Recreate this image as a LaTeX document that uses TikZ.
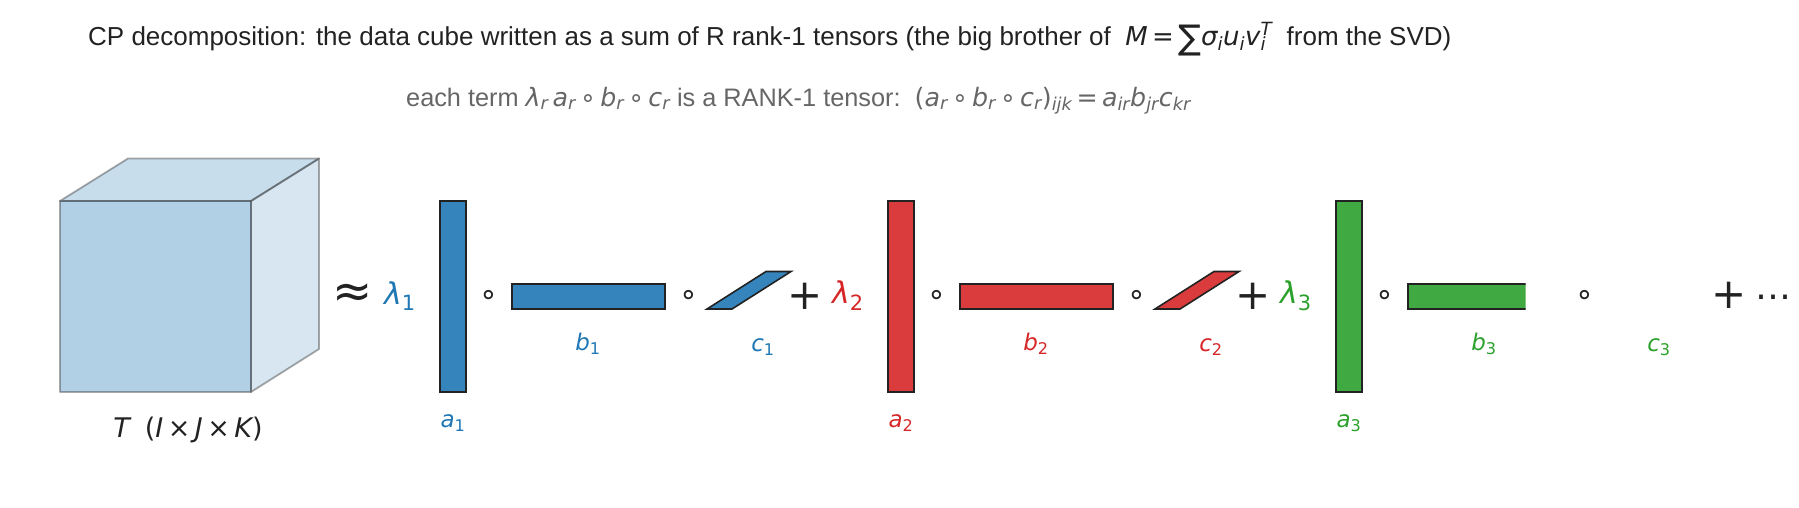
\documentclass[tikz,border=0pt]{standalone}
\usepackage{fontspec}
\setmainfont{Liberation Sans}
\newfontfamily\dvfont{DejaVu Sans}
\usepackage{xcolor}
\usepackage{tikz}
\usetikzlibrary{positioning}

\definecolor{tabblue}{HTML}{1F77B4}
\definecolor{tabred}{HTML}{D62728}
\definecolor{tabgreen}{HTML}{2CA02C}
\definecolor{edgeclr}{HTML}{222222}
\definecolor{inkclr}{HTML}{222222}
\definecolor{subclr}{HTML}{666666}

% math-like pieces set in DejaVu Sans
\newcommand{\mv}[1]{{\dvfont\itshape #1}}
\newcommand{\mup}[1]{{\dvfont #1}}
\newcommand{\sbs}[1]{\textsubscript{#1}}

\begin{document}
\begin{tikzpicture}[x=1pt, y=-1pt,
  ttl/.style={font=\fontsize{26}{30}\selectfont, text=inkclr, inner sep=0pt},
  subttl/.style={font=\fontsize{25.3}{29}\selectfont, text=subclr, inner sep=0pt},
  cubeface/.style={fill=tabblue, fill opacity=#1, draw=black!75, draw opacity=0.45,
                   line width=1.8pt, line join=round},
  vecbar/.style={fill=#1, fill opacity=0.9, draw=edgeclr, line width=1.6pt, line join=miter},
  oplbl/.style={font=\dvfont\fontsize{42}{42}\selectfont, text=inkclr, inner sep=0pt},
  approxlbl/.style={font=\dvfont\fontsize{48}{48}\selectfont, text=inkclr, inner sep=0pt},
  circlbl/.style={font=\dvfont\fontsize{30}{30}\selectfont, text=inkclr, inner sep=0pt},
  veclbl/.style={font=\fontsize{23}{23}\selectfont, text=#1, inner sep=0pt},
  lamlbl/.style={font=\fontsize{30}{30}\selectfont, text=#1, inner sep=0pt}
]
\useasboundingbox (0,0) rectangle (1799,507);

% titles
\node[ttl, anchor=base west] (title) at (88,45)
  {CP decomposition: the data cube written as a sum of R rank-1 tensors (the big brother of\ \ \mv{M}\mup{\,=\,}\raisebox{-0.18em}{\mup{\fontsize{34}{34}\selectfont ∑}}\mv{σ}\sbs{\mv{i}}\mv{u}\sbs{\mv{i}}\mv{v}\rlap{\sbs{\mv{i}}}\textsuperscript{\mv{T}}\ \ from the SVD)};
\node[subttl, anchor=base west] (subtitle) at (406,106)
  {each term \mv{λ}\sbs{\mv{r}}\,\mv{a}\sbs{\mv{r}}\mup{\,∘\,}\mv{b}\sbs{\mv{r}}\mup{\,∘\,}\mv{c}\sbs{\mv{r}} is a RANK-1 tensor:\ \ \mup{(}\mv{a}\sbs{\mv{r}}\mup{\,∘\,}\mv{b}\sbs{\mv{r}}\mup{\,∘\,}\mv{c}\sbs{\mv{r}}\mup{)}\sbs{\mv{ijk}}\mup{\,=\,}\mv{a}\sbs{\mv{ir}}\mv{b}\sbs{\mv{jr}}\mv{c}\sbs{\mv{kr}}};

% the data cube
\draw[cubeface=0.25] (60,201) -- (128,158.5) -- (319,158.5) -- (251,201) -- cycle;
\draw[cubeface=0.18] (251,201) -- (319,158.5) -- (319,349) -- (251,392) -- cycle;
\draw[cubeface=0.35] (60,201) rectangle (251,392);
\node[veclbl=inkclr, font=\fontsize{27}{27}\selectfont] (tlbl) at (188,430)
  {\mv{T}\ \ \mup{(}\mv{I}\mup{\,×\,}\mv{J}\mup{\,×\,}\mv{K}\mup{)}};

\node[approxlbl] (approx) at (353,296) {≈};

% rank-1 terms (the axes cut the third one off)
\begin{scope}
\clip (0,0) rectangle (1525.5,507);
\foreach \k/\clr in {1/tabblue,2/tabred,3/tabgreen}{
  \pgfmathsetmacro\dx{448*(\k-1)}
  \begin{scope}[xshift=\dx pt]
    \draw[vecbar=\clr] (440,201) rectangle (466,392);
    \draw[vecbar=\clr] (512,284) rectangle (665,309);
    \draw[vecbar=\clr] (707,309) -- (732,309) -- (791,271.5) -- (766,271.5) -- cycle;
  \end{scope}
}
\end{scope}

\foreach \k/\clr in {1/tabblue,2/tabred,3/tabgreen}{
  \pgfmathsetmacro\dx{448*(\k-1)}
  \node[lamlbl=\clr] (lam\k) at ({400+\dx},296) {\mv{λ}\sbs{\mup{\k}}};
  \node[circlbl] (circa\k) at ({489+\dx},297) {∘};
  \node[circlbl] (circb\k) at ({689+\dx},297) {∘};
  \node[veclbl=\clr] (alab\k) at ({453+\dx},423) {\mv{a}\sbs{\mup{\k}}};
  \node[veclbl=\clr] (blab\k) at ({588+\dx},344) {\mv{b}\sbs{\mup{\k}}};
  \node[veclbl=\clr] (clab\k) at ({763+\dx},347) {\mv{c}\sbs{\mup{\k}}};
}
\node[oplbl] (plus1) at (805,296) {+};
\node[oplbl] (plus2) at (1253,296) {+};
\node[oplbl] (plusend) at (1729,295) {+};
\node[oplbl, font=\dvfont\fontsize{36}{36}\selectfont, base right=8pt of plusend] (dots) {⋯};
\end{tikzpicture}
\end{document}
